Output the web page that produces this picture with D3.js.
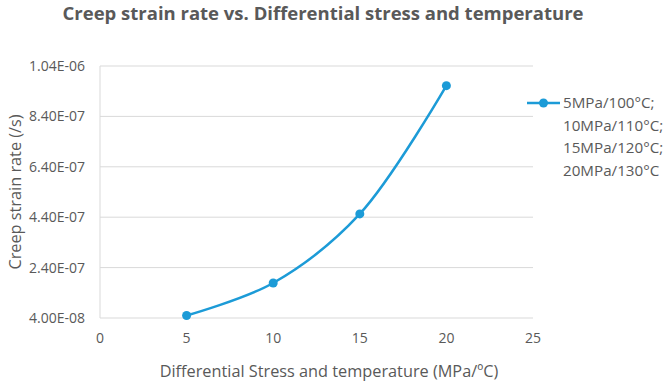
<!DOCTYPE html>
<html>
<head>
<meta charset="utf-8">
<script src="https://cdn.jsdelivr.net/npm/d3@7"></script>
<style>
  body { margin: 0; background: #fff; }
  text { font-family: "Open Sans", "Noto Sans", sans-serif; fill: #595959; }
</style>
</head>
<body>
<div id="chart"></div>
<script>
// values
var stress = [5, 10, 15, 20];
var strainRate = [5.0e-8, 1.79e-7, 4.53e-7, 9.62e-7];
var yTicks = [4.0e-8, 2.4e-7, 4.4e-7, 6.4e-7, 8.4e-7, 1.04e-6];
var xTicks = [0, 5, 10, 15, 20, 25];
var legendLines = ["5MPa/100°C;", "10MPa/110°C;", "15MPa/120°C;", "20MPa/130°C"];

var width = 671, height = 383;
var margin = { top: 66, right: 138, bottom: 65, left: 100 };
var blue = "#1c9bd7";

var svg = d3.select("#chart").append("svg")
    .attr("width", width)
    .attr("height", height);

var x = d3.scaleLinear()
    .domain([0, 25])
    .range([margin.left, width - margin.right]);

var y = d3.scaleLinear()
    .domain([4.0e-8, 1.04e-6])
    .range([height - margin.bottom, margin.top]);

// title
svg.append("text")
    .attr("x", 323)
    .attr("y", 20)
    .attr("text-anchor", "middle")
    .attr("font-size", 18.5)
    .attr("font-weight", "bold")
    .text("Creep strain rate vs. Differential stress and temperature");

// horizontal gridlines
svg.append("g")
    .selectAll("line")
    .data(yTicks)
    .enter().append("line")
    .attr("x1", x(0))
    .attr("x2", x(25))
    .attr("y1", d => y(d))
    .attr("y2", d => y(d))
    .attr("stroke", "#d9d9d9")
    .attr("stroke-width", 1);

// left axis line
svg.append("line")
    .attr("x1", x(0)).attr("x2", x(0))
    .attr("y1", y(1.04e-6)).attr("y2", y(4.0e-8))
    .attr("stroke", "#d9d9d9");

// y tick labels
function sci(v) {
    var s = v.toExponential(2).toUpperCase();   // e.g. 4.00E-8
    return s.replace(/E([+-])(\d)$/, "E$10$2");
}
svg.append("g")
    .selectAll("text")
    .data(yTicks)
    .enter().append("text")
    .attr("x", 85)
    .attr("y", d => y(d))
    .attr("dy", "0.35em")
    .attr("text-anchor", "end")
    .attr("font-size", 14)
    .text(d => sci(d));

// x tick labels
svg.append("g")
    .selectAll("text")
    .data(xTicks)
    .enter().append("text")
    .attr("x", d => x(d))
    .attr("y", 338.5)
    .attr("dy", "0.35em")
    .attr("text-anchor", "middle")
    .attr("font-size", 14)
    .text(d => d);

// axis titles
svg.append("text")
    .attr("x", 329)
    .attr("y", 371)
    .attr("dy", "0.35em")
    .attr("text-anchor", "middle")
    .attr("font-size", 16.3)
    .text("Differential Stress and temperature (MPa/ºC)");

svg.append("text")
    .attr("transform", "translate(15," + ((y(4.0e-8) + y(1.04e-6)) / 2) + ") rotate(-90)")
    .attr("dy", "0.35em")
    .attr("text-anchor", "middle")
    .attr("font-size", 16.3)
    .text("Creep strain rate (/s)");

// series
var pts = stress.map((s, i) => [s, strainRate[i]]);
var line = d3.line()
    .x(d => x(d[0]))
    .y(d => y(d[1]))
    .curve(d3.curveCatmullRom.alpha(0.5));

svg.append("path")
    .datum(pts)
    .attr("d", line)
    .attr("fill", "none")
    .attr("stroke", blue)
    .attr("stroke-width", 2.5);

svg.append("g")
    .selectAll("circle")
    .data(pts)
    .enter().append("circle")
    .attr("cx", d => x(d[0]))
    .attr("cy", d => y(d[1]))
    .attr("r", 4.5)
    .attr("fill", blue);

// legend
var lg = svg.append("g");
lg.append("line")
    .attr("x1", 527).attr("x2", 560)
    .attr("y1", 103).attr("y2", 103)
    .attr("stroke", blue).attr("stroke-width", 2.5);
lg.append("circle")
    .attr("cx", 543.5).attr("cy", 103).attr("r", 4.5)
    .attr("fill", blue);
lg.selectAll("text.leg")
    .data(legendLines)
    .enter().append("text")
    .attr("class", "leg")
    .attr("x", 563)
    .attr("y", (d, i) => 103 + i * 22.5)
    .attr("dy", "0.35em")
    .attr("font-size", 15.2)
    .text(d => d);
</script>
</body>
</html>
